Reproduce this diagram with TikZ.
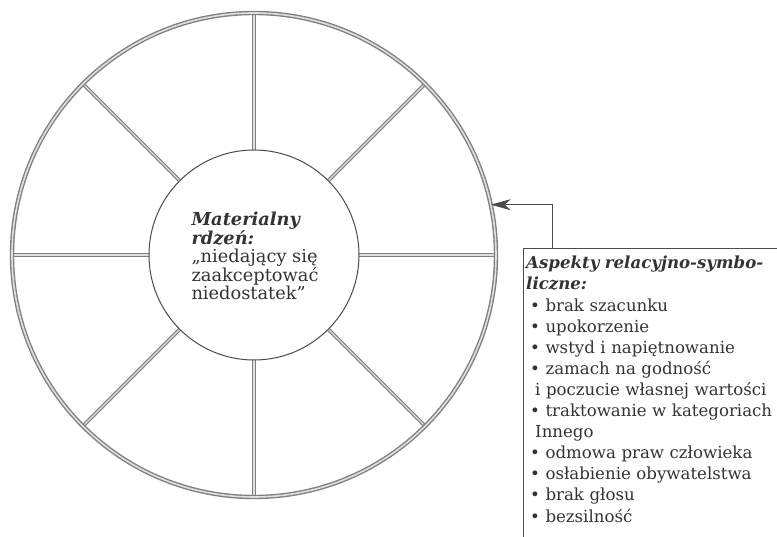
\documentclass[tikz,border=0pt]{standalone}
\usepackage{fontspec}
\setmainfont{DejaVu Serif}
\usetikzlibrary{arrows.meta,backgrounds}

\newcommand{\listindent}{\leavevmode\kern4pt\relax}
\newcommand{\listwrap}{\leavevmode\kern9pt\relax}

\tikzset{
  ring/.style={circle, draw=black!50, line width=1.4pt, double=black!12, double distance=1.6pt, inner sep=0pt, outer sep=0pt},
  spoke/.style={draw=black!50, line width=1.2pt, double=black!12, double distance=1.4pt},
  core/.style={circle, draw=black!70, line width=1pt, fill=white, inner sep=0pt, outer sep=0pt, minimum size=210pt},
  pointer/.style={draw=black!70, line width=0.9pt, -{Stealth[length=20pt, width=11pt, inset=6pt]}},
  boxline/.style={draw=black!70, line width=0.9pt},
  corelabel/.style={align=left, text=black!80, font=\fontsize{17.8}{18.4}\selectfont},
  listlabel/.style={align=left, anchor=north west, text width=300pt, inner xsep=3pt, inner ysep=8pt, text=black!80, font=\fontsize{16.6}{21.1}\selectfont}
}

\begin{document}
\begin{tikzpicture}[x=1pt, y=-1pt]
\useasboundingbox (0,0) rectangle (777,537);
\clip (0,0) rectangle (777,537);

% outer wheel and core
\node[ring, minimum size=484pt] (hub) at (254,255) {};
\node[core] (core) at (hub.center) {};
\node[corelabel] (coretext) at ([xshift=1pt,yshift=-1pt]hub.center) {\textbf{\textit{Materialny}}\\
  \textbf{\textit{rdzeń:}}\\
  „niedający się\\
  zaakceptować\\
  niedostatek”};

% spokes
\begin{scope}[on background layer]
\foreach \ang in {0,45,...,315}
  \draw[spoke] (core.\ang) -- (hub.\ang);
\end{scope}

% list of aspects
\node[listlabel] (aspects) at (523,248) {\textbf{\textit{Aspekty relacyjno-symbo-}}\\
  \textbf{\textit{liczne:}}\\
  \listindent • brak szacunku\\
  \listindent • upokorzenie\\
  \listindent • wstyd i napiętnowanie\\
  \listindent • zamach na godność\\
  \listwrap i poczucie własnej wartości\\
  \listindent • traktowanie w kategoriach\\
  \listwrap Innego\\
  \listindent • odmowa praw człowieka\\
  \listindent • osłabienie obywatelstwa\\
  \listindent • brak głosu\\
  \listindent • bezsilność};
\draw[boxline] ([yshift=-40pt]aspects.south west) |- ([xshift=40pt]aspects.north east);

% arrow to the wheel
\draw[pointer] ([xshift=29pt]aspects.north west) |- (hub.12);
\end{tikzpicture}
\end{document}
